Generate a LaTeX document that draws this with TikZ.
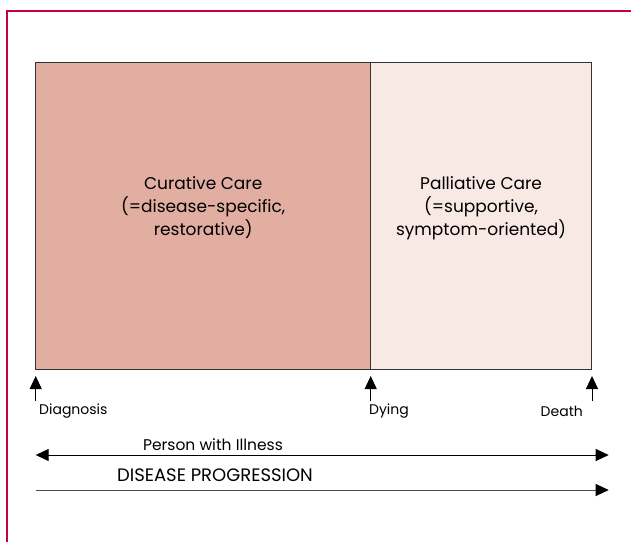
\documentclass[tikz,border=0pt]{standalone}
\usepackage{fontspec}
\setmainfont{Poppins}
\usetikzlibrary{arrows.meta}
\definecolor{framered}{HTML}{C2004B}
\definecolor{curfill}{HTML}{E2AEA2}
\definecolor{palfill}{HTML}{F8E9E5}
\tikzset{
	careblock/.style={draw=black!80, line width=1pt},
	caretext/.style={align=center, font=\fontsize{17}{23}\selectfont, inner sep=0pt},
	marklabel/.style={font=\fontsize{14}{16}\selectfont, inner sep=0pt},
	axislabel/.style={font=\fontsize{15.5}{18}\selectfont, inner sep=0pt},
	tip/.style={-{Triangle[length=13pt,width=12pt,color=black]}, line width=1pt},
	twotip/.style={{Triangle[length=13pt,width=12pt]}-{Triangle[length=13pt,width=12pt]}, line width=1pt}
}
\begin{document}
\begin{tikzpicture}[x=1pt, y=-1pt]

	% Page size and the red frame
	\useasboundingbox (0,0) rectangle (631,541);
	\clip (0,0) rectangle (631,541);
	\draw [framered, line width=2pt] (7,560) |- (660,11);

	% Drawing the two care blocks
	\draw [careblock, fill=curfill] (35.7,62.7) rectangle (370.7,369.3);
	\draw [careblock, fill=palfill] (370.7,62.7) rectangle (591.5,369.3);
	\node [caretext] (curative) at (203.2,208) {Curative Care\\(=disease-specific,\\restorative)};
	\node [caretext] (palliative) at (481.1,208) {Palliative Care\\(=supportive,\\symptom-oriented)};

	% Time points below the blocks
	\coordinate (diagbase) at (35.7,400.7);
	\coordinate (diagtip) at (35.7,376);
	\coordinate (dyingbase) at (370.7,400.7);
	\coordinate (dyingtip) at (370.7,376);
	\coordinate (deathbase) at (592,400.7);
	\coordinate (deathtip) at (592,376);
	\draw [tip] (diagbase) -- (diagtip);
	\draw [tip] (dyingbase) -- (dyingtip);
	\draw [tip] (deathbase) -- (deathtip);
	\node [marklabel, anchor=west] (diagnosis) at (39,411) {Diagnosis};
	\node [marklabel, anchor=west] (dying) at (369,411) {Dying};
	\node [marklabel, anchor=east] (death) at (583,411) {Death};

	% Person with illness and disease progression
	\node [axislabel] (person) at (213,445) {Person with Illness};
	\coordinate (personleft) at (35.7,455);
	\coordinate (personright) at (608.7,455);
	\draw [twotip] (personleft) -- (personright);
	\node [axislabel, font=\fontsize{18}{20}\selectfont] (progression) at (215,475) {DISEASE PROGRESSION};
	\coordinate (progleft) at (35.7,490);
	\coordinate (progright) at (608.7,490);
	\draw [tip, draw=black!70] (progleft) -- (progright);

\end{tikzpicture}
\end{document}
